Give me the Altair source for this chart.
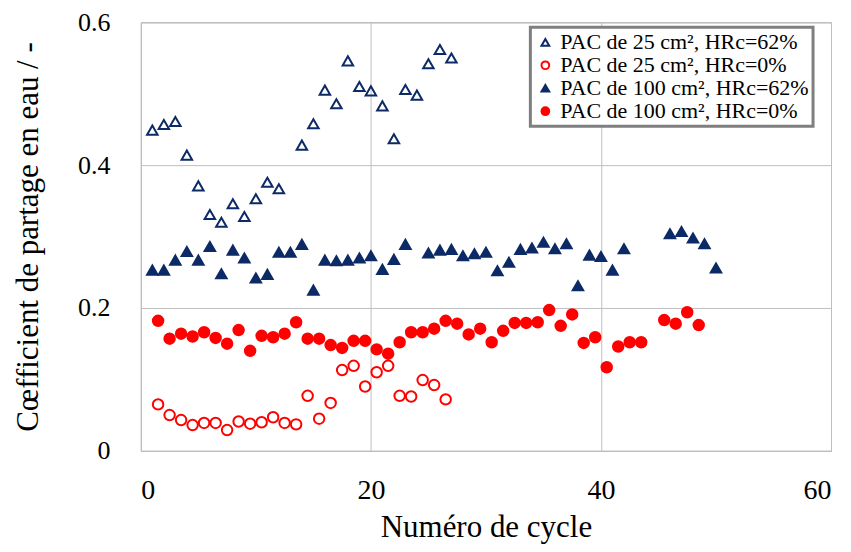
import altair as alt
import pandas as pd

series_names = [
    "PAC de 25 cm², HRc=62%",
    "PAC de 25 cm², HRc=0%",
    "PAC de 100 cm², HRc=62%",
    "PAC de 100 cm², HRc=0%",
]

# PAC 25 cm², HRc=62% (open triangles)
s25_62_x = [1, 2, 3, 4, 5, 6, 7, 8, 9, 10, 11, 12, 14, 15, 16, 17, 18, 19, 20, 21, 22, 23, 24, 25, 26, 27]
s25_62_y = [0.449, 0.457, 0.461, 0.414, 0.371, 0.331, 0.320, 0.346, 0.328, 0.353, 0.376, 0.367, 0.428,
            0.458, 0.505, 0.486, 0.546, 0.510, 0.504, 0.483, 0.437, 0.506, 0.498, 0.542, 0.562, 0.550]

# PAC 25 cm², HRc=0% (open circles)
s25_0_x = [1.5, 2.5, 3.5, 4.5, 5.5, 6.5, 7.5, 8.5, 9.5, 10.5, 11.5, 12.5, 13.5, 14.5, 15.5, 16.5, 17.5,
           18.5, 19.5, 20.5, 21.5, 22.5, 23.5, 24.5, 25.5, 26.5]
s25_0_y = [0.065, 0.050, 0.043, 0.036, 0.039, 0.039, 0.029, 0.041, 0.038, 0.040, 0.047, 0.039, 0.037,
           0.077, 0.045, 0.067, 0.113, 0.119, 0.090, 0.110, 0.119, 0.077, 0.076, 0.099, 0.092, 0.072]

# PAC 100 cm², HRc=62% (filled triangles)
s100_62_x = [1, 2, 3, 4, 5, 6, 7, 8, 9, 10, 11, 12, 13, 14, 15, 16, 17, 18, 19, 20, 21, 22, 23,
             25, 26, 27, 28, 29, 30, 31, 32, 33, 34, 35, 36, 37, 38, 39, 40, 41, 42,
             46, 47, 48, 49, 50]
s100_62_y = [0.253, 0.253, 0.267, 0.279, 0.267, 0.286, 0.248, 0.281, 0.270, 0.242, 0.247, 0.278, 0.278,
             0.289, 0.225, 0.267, 0.266, 0.267, 0.270, 0.273, 0.254, 0.268, 0.289,
             0.277, 0.281, 0.282, 0.273, 0.276, 0.278, 0.252, 0.264, 0.282, 0.284, 0.292, 0.283,
             0.290, 0.231, 0.274, 0.272, 0.253, 0.283,
             0.304, 0.307, 0.298, 0.290, 0.256]

# PAC 100 cm², HRc=0% (filled circles)
s100_0_x = [1.5, 2.5, 3.5, 4.5, 5.5, 6.5, 7.5, 8.5, 9.5, 10.5, 11.5, 12.5, 13.5, 14.5, 15.5, 16.5,
            17.5, 18.5, 19.5, 20.5, 21.5, 22.5, 23.5, 24.5, 25.5, 26.5, 27.5, 28.5, 29.5, 30.5,
            31.5, 32.5, 33.5, 34.5, 35.5, 36.5, 37.5, 38.5, 39.5, 40.5, 41.5, 42.5, 43.5,
            45.5, 46.5, 47.5, 48.5]
s100_0_y = [0.182, 0.157, 0.164, 0.160, 0.166, 0.158, 0.150, 0.169, 0.140, 0.161,
            0.159, 0.164, 0.180, 0.157, 0.157, 0.148, 0.144, 0.154, 0.154, 0.142,
            0.136, 0.152, 0.166, 0.166, 0.171, 0.182, 0.178, 0.163, 0.171, 0.152,
            0.168, 0.179, 0.179, 0.180, 0.197, 0.175, 0.191, 0.151, 0.159, 0.117,
            0.146, 0.152, 0.152,
            0.183, 0.178, 0.194, 0.176]

frames = []
for name, xs, ys in [
    (series_names[0], s25_62_x, s25_62_y),
    (series_names[1], s25_0_x, s25_0_y),
    (series_names[2], s100_62_x, s100_62_y),
    (series_names[3], s100_0_x, s100_0_y),
]:
    frames.append(pd.DataFrame({"cycle": xs, "coef": ys, "serie": name}))
df = pd.concat(frames, ignore_index=True)

blue = "#0b2a66"
red = "#ff0000"
FONT = "'Liberation Serif', 'Times New Roman', 'DejaVu Serif', serif"

legend = alt.Legend(
    title=None, orient="none", legendX=390, legendY=5,
    labelFont=FONT, labelFontSize=22, labelColor="black", labelLimit=400,
    symbolSize=60, symbolStrokeWidth=2, rowPadding=1,
    fillColor="white", padding=4,
)

title_style = dict(titleFont=FONT, titleFontSize=31, titleFontWeight="normal", titleColor="black")

chart = alt.Chart(df).mark_point(filled=False, size=110, strokeWidth=2, opacity=1).encode(
    x=alt.X("cycle:Q", title="Numéro de cycle",
            scale=alt.Scale(domain=[0, 60], nice=False),
            axis=alt.Axis(values=[0, 20, 40, 60], labelPadding=26, titlePadding=8,
                          labelFont=FONT, labelFontSize=28, labelColor="black", **title_style)),
    y=alt.Y("coef:Q", title="Cœfficient de partage en eau / -",
            scale=alt.Scale(domain=[0, 0.6], nice=False),
            axis=alt.Axis(values=[0, 0.2, 0.4, 0.6], format="~g", labelPadding=31, titlePadding=33,
                          labelFont=FONT, labelFontSize=26, labelColor="black", **title_style)),
    color=alt.Color("serie:N", scale=alt.Scale(domain=series_names, range=[blue, red, blue, red]),
                    legend=legend, sort=series_names),
    fill=alt.Fill("serie:N", scale=alt.Scale(domain=series_names,
                                             range=["transparent", "transparent", blue, red]),
                  legend=legend, sort=series_names),
    shape=alt.Shape("serie:N", scale=alt.Scale(domain=series_names,
                                               range=["triangle-up", "circle", "triangle-up", "circle"]),
                    legend=legend, sort=series_names),
).properties(
    width=691, height=429,
    autosize=alt.AutoSizeParams(type="none"),
    padding={"left": 133, "top": 14, "right": 12, "bottom": 100},
).configure(
    font=FONT
).configure_view(
    stroke="#a6a6a6", strokeWidth=1
).configure_axis(
    domain=False, ticks=False, grid=True, gridColor="#bfbfbf", gridWidth=1,
).configure_legend(
    strokeColor="#7f7f7f", strokeWidth=3,
)

chart.save("out.html", embed_options={"renderer": "svg", "actions": False})
